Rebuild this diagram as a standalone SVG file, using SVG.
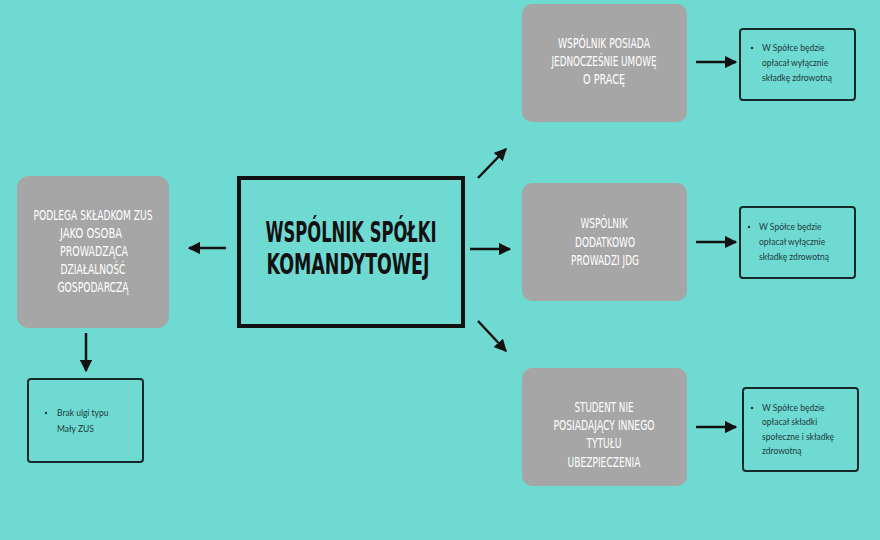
<svg xmlns="http://www.w3.org/2000/svg" width="880" height="540" viewBox="0 0 880 540">
<defs>
<style>
.gray{fill:#a6a6a6;}
.cap{font-family:'DejaVu Sans Condensed','DejaVu Sans',sans-serif;font-stretch:condensed;fill:#ffffff;font-size:14px;text-anchor:middle;}
.title{font-family:'DejaVu Sans Condensed','DejaVu Sans',sans-serif;font-stretch:condensed;font-weight:bold;fill:#111111;font-size:28px;text-anchor:middle;}
.note{fill:none;stroke:#16292a;stroke-width:2;}
.small{font-family:Lato,'Liberation Sans',sans-serif;font-size:8.5px;fill:#1d3a3c;}
.dot{fill:#1d3a3c;}
.arr{stroke:#111111;stroke-width:2.5;fill:none;marker-end:url(#ah);}
</style>
<marker id="ah" viewBox="0 0 10 10" refX="9" refY="5" markerWidth="5" markerHeight="5" orient="auto" markerUnits="strokeWidth">
<path d="M0,0 L10,5 L0,10 Z" fill="#111111"/>
</marker>
</defs>
<rect width="880" height="540" fill="#6fdad2"/>

<g id="connectors">
<line class="arr" x1="226" y1="248" x2="189" y2="248"/>
<line class="arr" x1="470" y1="249" x2="510" y2="249"/>
<line class="arr" x1="478" y1="178" x2="506" y2="149"/>
<line class="arr" x1="478" y1="321" x2="506" y2="351"/>
<line class="arr" x1="86" y1="333" x2="86" y2="371"/>
<line class="arr" x1="696" y1="62" x2="736" y2="62"/>
<line class="arr" x1="696" y1="242" x2="736" y2="242"/>
<line class="arr" x1="696" y1="427" x2="736" y2="427"/>
</g>

<g id="center">
<rect x="239" y="178" width="224" height="148" fill="none" stroke="#111111" stroke-width="4"/>
<text class="title" x="351" y="242" textLength="171" lengthAdjust="spacingAndGlyphs">WSPÓLNIK SPÓŁKI</text>
<text class="title" x="348" y="274" textLength="163" lengthAdjust="spacingAndGlyphs">KOMANDYTOWEJ</text>
</g>

<g id="left-gray">
<rect class="gray" x="17" y="176" width="152" height="152" rx="12"/>
<text class="cap" x="93" y="220" textLength="119" lengthAdjust="spacingAndGlyphs">PODLEGA SKŁADKOM ZUS</text>
<text class="cap" x="91" y="238" textLength="62" lengthAdjust="spacingAndGlyphs">JAKO OSOBA</text>
<text class="cap" x="94" y="256" textLength="68" lengthAdjust="spacingAndGlyphs">PROWADZĄCA</text>
<text class="cap" x="93" y="274" textLength="65" lengthAdjust="spacingAndGlyphs">DZIAŁALNOŚĆ</text>
<text class="cap" x="93" y="292" textLength="71" lengthAdjust="spacingAndGlyphs">GOSPODARCZĄ</text>
</g>

<g id="left-note">
<rect class="note" x="28" y="379" width="115" height="83" rx="3"/>
<circle class="dot" cx="46" cy="413" r="1.2"/>
<text class="small" x="57" y="416">Brak ulgi typu</text>
<text class="small" x="57" y="432">Mały ZUS</text>
</g>

<g id="top-gray">
<rect class="gray" x="522" y="4" width="165" height="118" rx="10"/>
<text class="cap" x="604" y="48" textLength="92" lengthAdjust="spacingAndGlyphs">WSPÓLNIK POSIADA</text>
<text class="cap" x="604" y="66" textLength="105" lengthAdjust="spacingAndGlyphs">JEDNOCZEŚNIE UMOWĘ</text>
<text class="cap" x="604" y="84" textLength="42" lengthAdjust="spacingAndGlyphs">O PRACĘ</text>
</g>

<g id="top-note">
<rect class="note" x="740" y="29" width="115" height="71" rx="3"/>
<circle class="dot" cx="752" cy="48" r="1.2"/>
<text class="small" x="762" y="51">W Spółce będzie</text>
<text class="small" x="762" y="66">opłacał wyłącznie</text>
<text class="small" x="762" y="81">składkę zdrowotną</text>
</g>

<g id="mid-gray">
<rect class="gray" x="522" y="183" width="165" height="118" rx="10"/>
<text class="cap" x="604" y="228" textLength="47" lengthAdjust="spacingAndGlyphs">WSPÓLNIK</text>
<text class="cap" x="605" y="247" textLength="60" lengthAdjust="spacingAndGlyphs">DODATKOWO</text>
<text class="cap" x="605" y="265" textLength="68" lengthAdjust="spacingAndGlyphs">PROWADZI JDG</text>
</g>

<g id="mid-note">
<rect class="note" x="740" y="207" width="115" height="71" rx="3"/>
<circle class="dot" cx="749" cy="227" r="1.2"/>
<text class="small" x="759" y="230">W Spółce będzie</text>
<text class="small" x="759" y="245">opłacał wyłącznie</text>
<text class="small" x="759" y="260">składkę zdrowotną</text>
</g>

<g id="bottom-gray">
<rect class="gray" x="522" y="368" width="165" height="118" rx="10"/>
<text class="cap" x="604" y="412" textLength="59" lengthAdjust="spacingAndGlyphs">STUDENT NIE</text>
<text class="cap" x="604" y="430" textLength="101" lengthAdjust="spacingAndGlyphs">POSIADAJĄCY INNEGO</text>
<text class="cap" x="604" y="448" textLength="35" lengthAdjust="spacingAndGlyphs">TYTUŁU</text>
<text class="cap" x="604" y="467" textLength="73" lengthAdjust="spacingAndGlyphs">UBEZPIECZENIA</text>
</g>

<g id="bottom-note">
<rect class="note" x="743" y="388" width="115" height="83" rx="3"/>
<circle class="dot" cx="752" cy="408" r="1.2"/>
<text class="small" x="762" y="411">W Spółce będzie</text>
<text class="small" x="762" y="425">opłacał składki</text>
<text class="small" x="762" y="440">społeczne i składkę</text>
<text class="small" x="762" y="454">zdrowotną</text>
</g>
</svg>
